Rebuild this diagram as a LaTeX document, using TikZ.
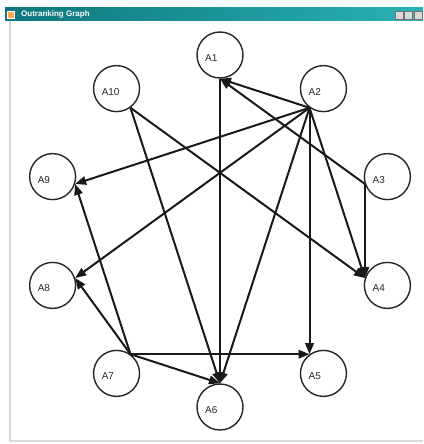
\documentclass[tikz,border=0pt]{standalone}
\usepackage{fontspec}
\setmainfont{Liberation Sans}
\usetikzlibrary{arrows.meta}

\definecolor{bardark}{RGB}{12,118,124}
\definecolor{barlight}{RGB}{42,178,180}

\begin{document}
\begin{tikzpicture}[x=1pt, y=-1pt,
        vert/.style={draw=black!85, circle, line width=1.4pt,
          minimum size=46pt, inner sep=0pt},
        vlabel/.style={anchor=west, font=\fontsize{10}{10}\selectfont,
          text=black!85, inner sep=0pt},
        edge/.style={draw=black!90, line width=2pt,
          -{Triangle[length=11pt, width=8.5pt]}},
        winbtn/.style={draw=black!55, fill=gray!30, line width=0.4pt, inner sep=0pt}]
      \useasboundingbox (0,0) rectangle (423,444);
      % window frame
      \fill[white] (0,0) rectangle (423,444);
      \shade[left color=bardark, right color=barlight]
        (5,8) rectangle (423,21);
      \node[draw=white, fill=orange!70, minimum size=7pt, inner sep=0pt]
        (icon) at (11,14.5) {};
      \node[anchor=west, font=\bfseries\fontsize{8}{8}\selectfont, text=white,
        inner sep=0pt] (title) at (21,14.5) {Outranking Graph};
      \node[winbtn, minimum size=8pt] (bmin) at (399,15) {};
      \node[winbtn, minimum size=8pt] (bmax) at (408,15) {};
      \node[winbtn, minimum size=8pt] (bcls) at (418,15) {};
      \draw[black!15, line width=2pt] (10,21) -- (10,441) -- (423,441);
      % vertices on a ring
      \begin{scope}[shift={(220,231)}]
        \foreach \i [evaluate=\i as \ang using 36*\i-126] in {1,...,10}{
          \node[vert] (a\i) at (\ang:176) {};
          \node[vlabel] (t\i) at ([xshift=-15pt, yshift=-3pt]a\i.center) {A\i};
          \coordinate (p\i) at (a\i.{180-\ang});
        }
      \end{scope}
      % outranking relations
      \foreach \s/\t in {1/6, 2/1, 3/1, 3/4, 2/4, 10/4, 2/5, 7/5,
                         2/6, 10/6, 7/6, 2/9, 2/8, 7/9, 7/8}
        \draw[edge] (p\s) -- (p\t);
      \end{tikzpicture}
\end{document}
